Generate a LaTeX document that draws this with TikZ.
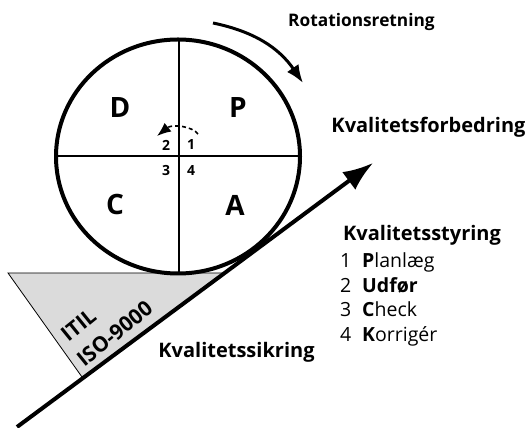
\documentclass[tikz,border=0pt]{standalone}
\usepackage{fontspec}
\setmainfont{Open Sans}
\usetikzlibrary{arrows.meta}
\newcommand{\pdcanum}[1]{\makebox[22pt][l]{#1}}
\begin{document}
\begin{tikzpicture}[x=1pt,y=1pt,
  lbl/.style={font=\bfseries\fontsize{20}{23}\selectfont, inner sep=0pt},
  quad/.style={font=\bfseries\fontsize{28}{32}\selectfont, inner sep=0pt},
  num/.style={font=\bfseries\fontsize{14}{16}\selectfont, inner sep=0pt},
  item/.style={font=\fontsize{19.5}{22}\selectfont, inner sep=0pt, anchor=base west},
  tilt/.style={font=\bfseries\fontsize{21}{24}\selectfont, inner sep=0pt, rotate=39},
  heavy/.style={line width=4pt},
  divider/.style={line width=2.6pt}]
\useasboundingbox (0,0) rectangle (525,428);
% gray triangle
\coordinate (t1) at (8,155);
\coordinate (t2) at (223,155);
\coordinate (t3) at (82,51);
\fill[black!14] (t1) -- (t2) -- (t3) -- cycle;
\draw[line width=0.8pt] (t3) -- (t1) -- (t2);
% incline
\coordinate (s) at (17,1);
\coordinate (e) at (373,265);
\draw[heavy, -{Latex[length=30pt,width=22pt]}] (s) -- (e);
% circle
\coordinate (c) at (178,271.5);
\draw[heavy] (c) ellipse [x radius=122, y radius=117];
\coordinate (cl) at (56,272);
\coordinate (cr) at (300,272);
\coordinate (ct) at (179,388);
\coordinate (cb) at (179,155);
\draw[divider] (cl) -- (cr);
\draw[divider] (ct) -- (cb);
% quadrant labels
\node[quad] (D) at (120,320) {D};
\node[quad] (P) at (238,320) {P};
\node[quad] (C) at (115,223) {C};
\node[quad] (A) at (235,223) {A};
% numbers
\node[num] (n2) at (166,283) {2};
\node[num] (n1) at (191,283) {1};
\node[num] (n3) at (166,257) {3};
\node[num] (n4) at (191,257) {4};
% small dashed arrow
\coordinate (da) at (198,294);
\coordinate (db) at (157,292);
\draw[line width=1.6pt, dash pattern=on 4pt off 3pt, -{Latex[length=14pt,width=11pt]}]
  (da) .. controls (192,302) and (172,304) .. (db);
% rotation arrow
\coordinate (ra) at (213,405);
\coordinate (rb) at (303,345);
\draw[line width=3pt, -{Latex[length=18pt,width=14pt]}] (ra) to[bend left=22] (rb);
% texts
\node[lbl, font=\bfseries\fontsize{17.3}{20}\selectfont] (rot) at (361.5,406) {Rotationsretning};
\node[lbl] (kf) at (428.5,301) {Kvalitetsforbedring};
\node[lbl] (ks) at (236.5,76) {Kvalitetssikring};
\node[lbl, anchor=west] (kst) at (343,193) {Kvalitetsstyring};
\node[item] (i1) at (340,160) {\pdcanum{1}\textbf{P}lanlæg};
\node[item] (i2) at (340,135.5) {\pdcanum{2}\textbf{Udfør}};
\node[item] (i3) at (340,111) {\pdcanum{3}\textbf{C}heck};
\node[item] (i4) at (340,86.5) {\pdcanum{4}\textbf{K}orrigér};
\node[tilt] (itil) at (78.5,103) {ITIL};
\node[tilt] (iso) at (114.5,94.5) {ISO-9000};
\end{tikzpicture}
\end{document}
